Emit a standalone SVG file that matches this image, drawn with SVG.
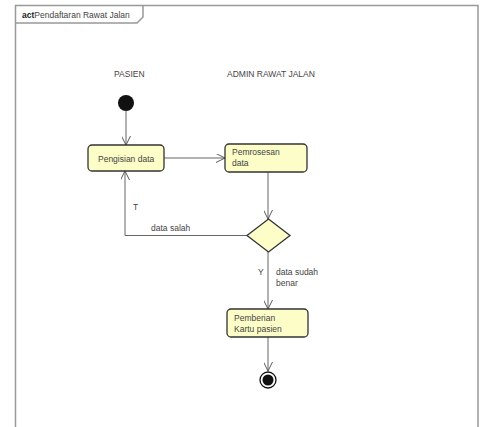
<svg xmlns="http://www.w3.org/2000/svg" width="480" height="427" viewBox="0 0 480 427">
<defs>
<style>
text{font-family:"Liberation Sans",Arial,sans-serif;font-size:8.5px;fill:#444}
.frame{fill:none;stroke:#999;stroke-width:1.5}
.act{fill:#fdfdc8;stroke:#333;stroke-width:1.3}
.edge{fill:none;stroke:#666;stroke-width:1}
</style>
<marker id="arr" viewBox="0 0 10 10" refX="10" refY="5" markerWidth="9" markerHeight="9" markerUnits="userSpaceOnUse" orient="auto">
<path d="M0,0 L10,5 L0,10" fill="none" stroke="#555" stroke-width="1.1"/>
</marker>
</defs>
<rect width="480" height="427" fill="#fff"/>
<g id="frame">
<path class="frame" d="M15.5,430 V5.5 H478 V430"/>
<path class="frame" d="M15.5,23 H137 L143,17 V5.5" stroke-width="1"/>
<text x="22" y="17.5"><tspan font-weight="bold" fill="#222">act</tspan>Pendaftaran Rawat Jalan</text>
</g>
<g id="lanes">
<text x="114" y="77">PASIEN</text>
<text x="227" y="77">ADMIN RAWAT JALAN</text>
</g>
<g id="edges">
<path class="edge" d="M126,111 V145" marker-end="url(#arr)"/>
<path class="edge" d="M164,158 H225" marker-end="url(#arr)"/>
<path class="edge" d="M268,172 V219" marker-end="url(#arr)"/>
<path class="edge" d="M247,235.5 H125 V171" marker-end="url(#arr)"/>
<path class="edge" d="M268,251 V309" marker-end="url(#arr)"/>
<path class="edge" d="M268,337 V371" marker-end="url(#arr)"/>
<text x="133" y="210">T</text>
<text x="151" y="231">data salah</text>
<text x="258" y="275">Y</text>
<text x="276" y="275">data sudah</text>
<text x="276" y="286">benar</text>
</g>
<g id="start"><circle cx="126" cy="103" r="8" fill="#111"/></g>
<g id="pengisian">
<rect class="act" x="88" y="145" width="76" height="26" rx="4"/>
<text x="98" y="162">Pengisian data</text>
</g>
<g id="pemrosesan">
<rect class="act" x="225" y="144" width="82" height="28" rx="4"/>
<text x="232" y="155">Pemrosesan</text>
<text x="232" y="166">data</text>
</g>
<g id="decision">
<path class="act" d="M268.5,219 L290,235.5 L268.5,252 L247,235.5 Z"/>
</g>
<g id="pemberian">
<rect class="act" x="227" y="309" width="81" height="28" rx="4"/>
<text x="234" y="321">Pemberian</text>
<text x="234" y="332">Kartu pasien</text>
</g>
<g id="end">
<circle cx="268" cy="380" r="8" fill="#fff" stroke="#111" stroke-width="1.3"/>
<circle cx="268" cy="380" r="5.5" fill="#111"/>
</g>
</svg>
